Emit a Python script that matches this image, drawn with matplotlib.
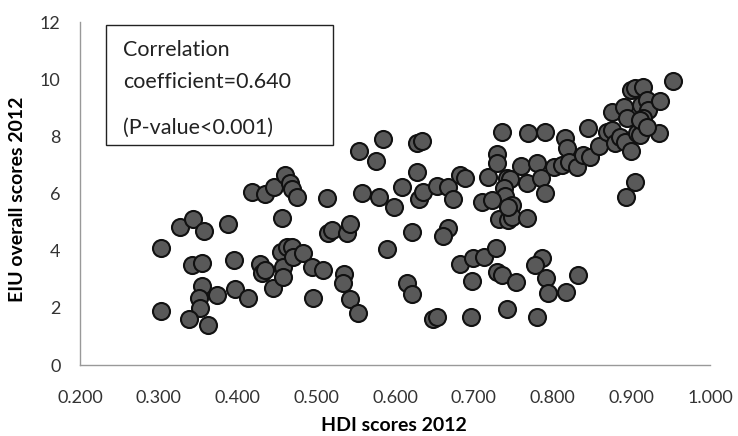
"""HDI vs EIU democracy index scatter, 2012."""
import matplotlib.pyplot as plt
from matplotlib.patches import Rectangle

hdi = [
    0.303, 0.303, 0.327, 0.343, 0.357, 0.388, 0.342, 0.355, 0.396, 0.355,
    0.351, 0.352, 0.338, 0.363, 0.374, 0.397, 0.413, 0.457, 0.429, 0.431,
    0.435, 0.445, 0.455, 0.463, 0.469, 0.458, 0.458, 0.470, 0.483, 0.495,
    0.509, 0.496, 0.515, 0.520, 0.539, 0.543, 0.535, 0.534, 0.543, 0.553,
    0.418, 0.435, 0.446, 0.460, 0.467, 0.469, 0.476, 0.514, 0.585, 0.554,
    0.576, 0.628, 0.634, 0.628, 0.609, 0.558, 0.580, 0.599, 0.630, 0.636,
    0.653, 0.667, 0.674, 0.683, 0.689, 0.622, 0.667, 0.661, 0.590, 0.615,
    0.622, 0.648, 0.653, 0.697, 0.742, 0.683, 0.699, 0.713, 0.728, 0.698,
    0.730, 0.736, 0.754, 0.718, 0.730, 0.730, 0.736, 0.769, 0.760, 0.742,
    0.746, 0.738, 0.740, 0.710, 0.723, 0.749, 0.732, 0.743, 0.749, 0.768,
    0.768, 0.790, 0.780, 0.785, 0.790, 0.816, 0.818, 0.802, 0.812, 0.821,
    0.831, 0.839, 0.848, 0.845, 0.859, 0.869, 0.876, 0.879, 0.886, 0.892,
    0.900, 0.907, 0.911, 0.935, 0.876, 0.891, 0.895, 0.900, 0.905, 0.915,
    0.912, 0.920, 0.921, 0.915, 0.937, 0.953, 0.905, 0.893, 0.911, 0.920,
    0.787, 0.778, 0.792, 0.794, 0.817, 0.832, 0.780, 0.743,
]
eiu = [
    4.09, 1.89, 4.83, 5.11, 4.69, 4.93, 3.50, 3.57, 3.67, 2.76,
    2.34, 1.99, 1.61, 1.40, 2.45, 2.66, 2.34, 5.14, 3.53, 3.22,
    3.32, 2.69, 3.95, 4.13, 4.13, 3.43, 3.08, 3.78, 3.92, 3.43,
    3.32, 2.34, 4.62, 4.72, 4.62, 4.93, 3.18, 2.87, 2.31, 1.82,
    6.05, 5.98, 6.23, 6.65, 6.37, 6.16, 5.88, 5.84, 7.91, 7.49,
    7.14, 7.77, 7.84, 6.75, 6.23, 6.02, 5.88, 5.53, 5.81, 6.05,
    6.26, 6.23, 5.81, 6.65, 6.54, 4.65, 4.79, 4.51, 4.06, 2.87,
    2.48, 1.61, 1.68, 1.68, 1.96, 3.53, 3.74, 3.78, 4.09, 2.94,
    3.25, 3.15, 2.90, 6.58, 7.38, 7.07, 8.15, 8.12, 6.96, 6.54,
    6.51, 6.19, 5.91, 5.70, 5.77, 5.60, 5.11, 5.07, 5.18, 6.37,
    5.14, 8.15, 7.07, 6.54, 6.02, 7.94, 7.59, 6.93, 7.00, 7.10,
    6.93, 7.35, 7.28, 8.29, 7.66, 8.15, 8.22, 7.77, 7.98, 7.80,
    7.49, 8.12, 8.05, 8.12, 8.85, 9.03, 8.64, 9.62, 9.69, 9.73,
    9.10, 9.27, 8.92, 8.64, 9.24, 9.94, 6.40, 5.88, 8.57, 8.33,
    3.74, 3.50, 3.04, 2.52, 2.55, 3.15, 1.68, 5.53,
]

x_ticks = [0.2, 0.3, 0.4, 0.5, 0.6, 0.7, 0.8, 0.9, 1.0]
y_ticks = [0, 2, 4, 6, 8, 10, 12]
note_lines = ["Correlation", "coefficient=0.640", "(P-value<0.001)"]
note_rows_px = [50, 82, 128]  # vertical pixel position of each note line

plt.rcParams["font.family"] = ["Lato", "DejaVu Sans"]

W, H = 738, 436
fig = plt.figure(figsize=(W / 100, H / 100), dpi=100)
ax = fig.add_axes([80 / W, (H - 365) / H, 630 / W, 343 / H])

ax.scatter(hdi, eiu, s=150, c="#595959", edgecolors="#111111",
           linewidths=1.5, zorder=3, clip_on=False)

ax.set_xlim(0.2, 1.0)
ax.set_ylim(0, 12)
ax.set_xticks(x_ticks)
ax.set_xticklabels([f"{t:.3f}" for t in x_ticks])
ax.set_yticks(y_ticks)
ax.tick_params(length=0, labelsize=13, colors="#333333")
ax.tick_params(axis="x", pad=18)
ax.tick_params(axis="y", pad=14)
for side in ("top", "right"):
    ax.spines[side].set_visible(False)
for side in ("left", "bottom"):
    ax.spines[side].set_color("#999999")
    ax.spines[side].set_linewidth(1.0)

fig.text(394 / W, 1 - 425 / H, "HDI scores 2012", ha="center", va="center",
         fontsize=14, fontweight="bold")
fig.text(18 / W, 1 - 199 / H, "EIU overall scores 2012", ha="center",
         va="center", rotation=90, fontsize=14, fontweight="bold")

# annotation box in pixel coords
fig.add_artist(Rectangle((106 / W, 1 - 145 / H), 227 / W, 120 / H,
                         transform=fig.transFigure, fill=True, facecolor="white",
                         edgecolor="#222222", linewidth=1.0, zorder=5))
for line, row in zip(note_lines, note_rows_px):
    fig.text(123 / W, 1 - row / H, line, ha="left", va="center",
             fontsize=15.5, color="#222222", zorder=6)

fig.savefig("out.png", dpi=100)
